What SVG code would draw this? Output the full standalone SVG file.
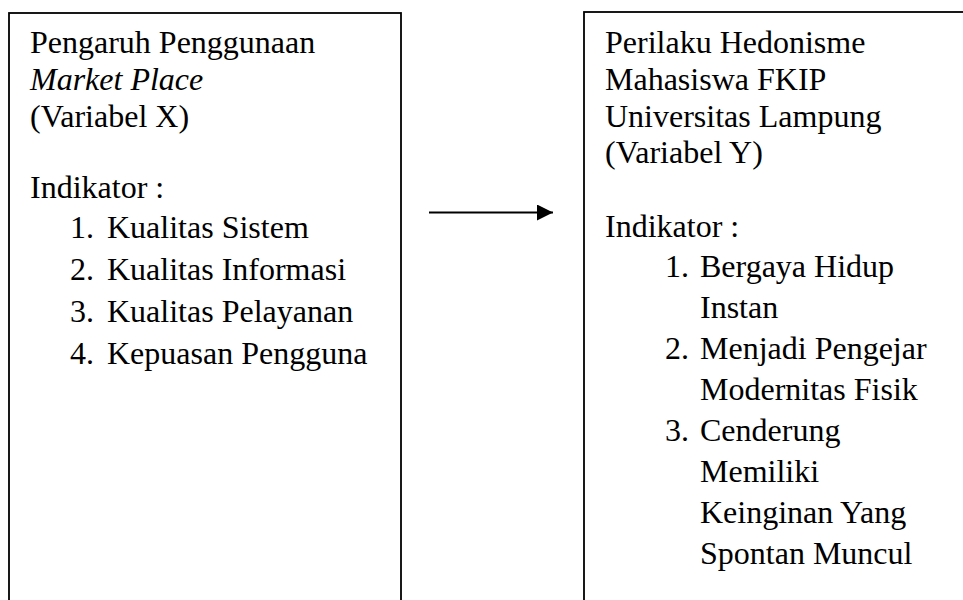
<svg xmlns="http://www.w3.org/2000/svg" width="963" height="600" viewBox="0 0 963 600">
<style>
.box{fill:#fff;stroke:#000;stroke-width:1.8}
text{font-family:'Liberation Serif','Times New Roman',Times,serif;font-size:32px;fill:#000}
.i{font-style:italic}
.conn{stroke:#000;stroke-width:2;fill:none}
</style>
<defs>
<marker id="ah" markerUnits="userSpaceOnUse" markerWidth="16" markerHeight="16" refX="16" refY="8" orient="auto">
<path d="M0,0 L16,8 L0,16 Z" fill="#000"/>
</marker>
</defs>
<rect width="963" height="600" fill="#fff"/>
<g id="nodeX" font-family="'Liberation Serif', 'Times New Roman', serif">
<rect class="box" x="9" y="13" width="392" height="620"/>
<text x="30" y="53">Pengaruh Penggunaan</text>
<text class="i" x="30" y="90">Market Place</text>
<text x="30" y="127">(Variabel X)</text>
<text x="30" y="198">Indikator :</text>
<text x="70" y="238">1.</text><text x="107" y="238">Kualitas Sistem</text>
<text x="70" y="280">2.</text><text x="107" y="280">Kualitas Informasi</text>
<text x="70" y="322">3.</text><text x="107" y="322">Kualitas Pelayanan</text>
<text x="70" y="364">4.</text><text x="107" y="364">Kepuasan Pengguna</text>
</g>
<g id="nodeY" font-family="'Liberation Serif', 'Times New Roman', serif">
<rect class="box" x="584" y="12" width="420" height="620"/>
<text x="605" y="53">Perilaku Hedonisme</text>
<text x="605" y="90">Mahasiswa FKIP</text>
<text x="605" y="127">Universitas Lampung</text>
<text x="605" y="163">(Variabel Y)</text>
<text x="605" y="237">Indikator :</text>
<text x="665" y="277">1.</text><text x="700" y="277">Bergaya Hidup</text>
<text x="700" y="318">Instan</text>
<text x="665" y="359">2.</text><text x="700" y="359">Menjadi Pengejar</text>
<text x="700" y="400">Modernitas Fisik</text>
<text x="665" y="441">3.</text><text x="700" y="441">Cenderung</text>
<text x="700" y="482">Memiliki</text>
<text x="700" y="523">Keinginan Yang</text>
<text x="700" y="564">Spontan Muncul</text>
</g>
<g id="connectors">
<line class="conn" x1="429" y1="212.5" x2="553" y2="212.5" marker-end="url(#ah)"/>
</g>
</svg>
